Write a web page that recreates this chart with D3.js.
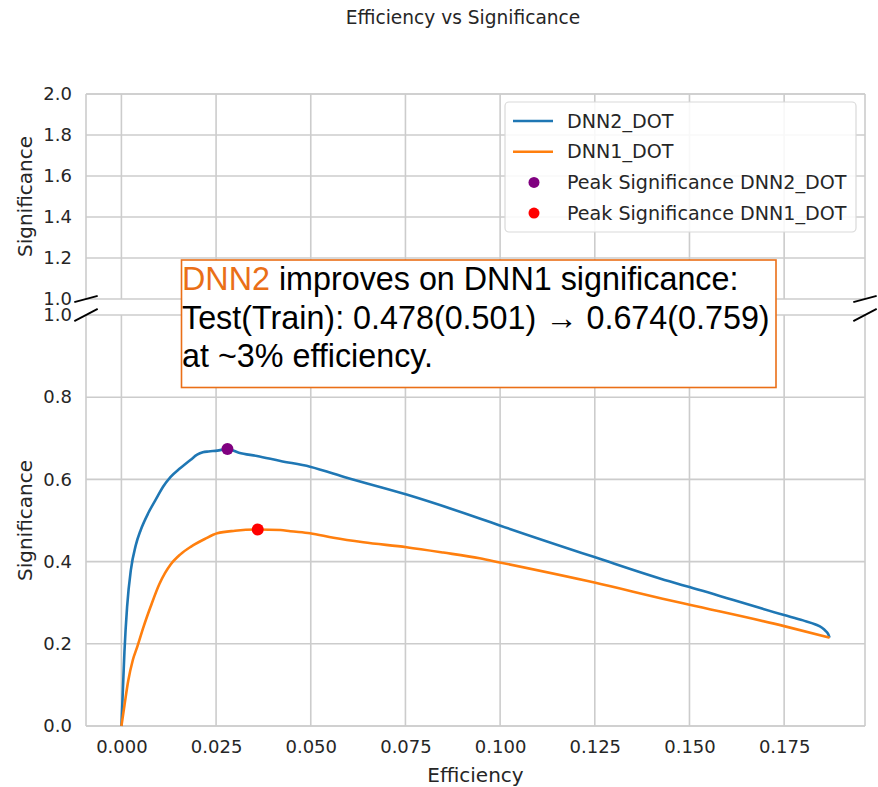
<!DOCTYPE html>
<html>
<head>
<meta charset="utf-8">
<script src="https://cdn.jsdelivr.net/npm/d3@7"></script>
<style>
  html, body { margin: 0; padding: 0; background: #fff; }
  svg { display: block; }
</style>
</head>
<body>
<svg id="chart" width="878" height="787"></svg>
<script>
// Efficiency / significance curves for the two networks
const dnn2Eff = [0, 0.0004, 0.0008, 0.0015, 0.0025, 0.0038, 0.0051, 0.0072, 0.0095, 0.011, 0.013, 0.0155, 0.0183, 0.0200, 0.0215, 0.023, 0.0253, 0.028, 0.031, 0.0358, 0.042, 0.0498, 0.0595, 0.0753, 0.0946, 0.0999, 0.1249, 0.1447, 0.150, 0.175, 0.180, 0.1833, 0.1850, 0.1860, 0.1866, 0.187];
const dnn2Sig = [0, 0.09, 0.18, 0.29, 0.38, 0.44, 0.477, 0.52, 0.558, 0.582, 0.606, 0.627, 0.648, 0.660, 0.666, 0.668, 0.670, 0.674, 0.665, 0.657, 0.645, 0.631, 0.604, 0.563, 0.505, 0.488, 0.411, 0.352, 0.338, 0.270, 0.257, 0.247, 0.239, 0.231, 0.224, 0.215];
const dnn1Eff = [0, 0.0008, 0.0018, 0.003, 0.0042, 0.0058, 0.0077, 0.010, 0.0115, 0.013, 0.0155, 0.0183, 0.022, 0.0253, 0.030, 0.036, 0.042, 0.0446, 0.0498, 0.056, 0.0639, 0.0753, 0.085, 0.0946, 0.0999, 0.1249, 0.1447, 0.150, 0.175, 0.187];
const dnn1Sig = [0, 0.05, 0.11, 0.16, 0.193, 0.24, 0.29, 0.345, 0.372, 0.393, 0.417, 0.436, 0.455, 0.469, 0.475, 0.478, 0.477, 0.474, 0.469, 0.458, 0.447, 0.435, 0.422, 0.408, 0.398, 0.349, 0.306, 0.295, 0.243, 0.215];

// Peak significance points
const peakLabels = ["Peak Significance DNN2_DOT", "Peak Significance DNN1_DOT"];
const peakEff = [0.028, 0.036];
const peakSig = [0.674, 0.478];

const seriesNames = ["DNN2_DOT", "DNN1_DOT"];
const xTicks = [0, 0.025, 0.05, 0.075, 0.1, 0.125, 0.15, 0.175];
const yTicksTop = [1.0, 1.2, 1.4, 1.6, 1.8, 2.0];
const yTicksBottom = [0.0, 0.2, 0.4, 0.6, 0.8, 1.0];

const colors = { DNN2_DOT: "#1f77b4", DNN1_DOT: "#ff7f0e" };
const peakColors = ["#800080", "#ff0000"];
const gridColor = "#cccccc";
const textColor = "#262626";
const font = "'DejaVu Sans', sans-serif";

const svg = d3.select("#chart");

// Layout of the broken axis: upper (1..2) and lower (0..1) panels
const left = 86, right = 865;
const top1 = 94, bottom1 = 299;
const top2 = 315, bottom2 = 726;

const xMax = d3.max([...dnn2Eff, ...dnn1Eff]);
const xMin = d3.min([...dnn2Eff, ...dnn1Eff]);
const pad = (xMax - xMin) * 0.05;
const x = d3.scaleLinear().domain([xMin - pad, xMax + pad]).range([left, right]);
const yTop = d3.scaleLinear().domain([1, 2]).range([bottom1, top1]);
const yBot = d3.scaleLinear().domain([0, 1]).range([bottom2, top2]);

function drawGrid(y, yTicks, yTopPx, yBotPx) {
  const g = svg.append("g");
  g.selectAll("line.v").data(xTicks).join("line")
    .attr("x1", d => x(d)).attr("x2", d => x(d))
    .attr("y1", yTopPx).attr("y2", yBotPx)
    .attr("stroke", gridColor).attr("stroke-width", 1.6);
  g.selectAll("line.h").data(yTicks).join("line")
    .attr("x1", left).attr("x2", right)
    .attr("y1", d => y(d)).attr("y2", d => y(d))
    .attr("stroke", gridColor).attr("stroke-width", 1.6);
  // left and right spines
  [left, right].forEach(px => {
    g.append("line").attr("x1", px).attr("x2", px)
      .attr("y1", yTopPx).attr("y2", yBotPx)
      .attr("stroke", gridColor).attr("stroke-width", 1.6);
  });
  // y axis labels
  const ax = d3.axisLeft(y).tickValues(yTicks).tickFormat(d3.format(".1f")).tickSize(0).tickPadding(14);
  const ag = svg.append("g").attr("transform", `translate(${left},0)`).call(ax);
  ag.select(".domain").remove();
  ag.selectAll("text").attr("font-family", font).attr("font-size", 18).attr("fill", textColor);
}

drawGrid(yTop, yTicksTop, top1, bottom1);
drawGrid(yBot, yTicksBottom, top2, bottom2);

// top spine of upper panel and bottom spine of lower panel
svg.append("line").attr("x1", left).attr("x2", right).attr("y1", top1).attr("y2", top1)
  .attr("stroke", gridColor).attr("stroke-width", 1.6);
svg.append("line").attr("x1", left).attr("x2", right).attr("y1", bottom2).attr("y2", bottom2)
  .attr("stroke", gridColor).attr("stroke-width", 1.6);

// x axis on the lower panel
const xAxis = d3.axisBottom(x).tickValues(xTicks).tickFormat(d3.format(".3f")).tickSize(0).tickPadding(14);
const xg = svg.append("g").attr("transform", `translate(0,${bottom2})`).call(xAxis);
xg.select(".domain").remove();
xg.selectAll("text").attr("font-family", font).attr("font-size", 18).attr("fill", textColor);

// Curves in the lower panel
svg.append("defs").append("clipPath").attr("id", "clipBot")
  .append("rect").attr("x", left).attr("y", top2).attr("width", right - left).attr("height", bottom2 - top2 + 4);

const line = d3.line().x(d => x(d[0])).y(d => yBot(d[1])).curve(d3.curveMonotoneX);
const curves = [
  { name: "DNN2_DOT", pts: d3.zip(dnn2Eff, dnn2Sig) },
  { name: "DNN1_DOT", pts: d3.zip(dnn1Eff, dnn1Sig) }
];
const cg = svg.append("g").attr("clip-path", "url(#clipBot)");
curves.forEach(c => {
  cg.append("path").datum(c.pts)
    .attr("d", line)
    .attr("fill", "none").attr("stroke", colors[c.name])
    .attr("stroke-width", 2.6).attr("stroke-linejoin", "round");
});
cg.selectAll("circle.peak").data(d3.range(peakEff.length)).join("circle")
  .attr("cx", i => x(peakEff[i])).attr("cy", i => yBot(peakSig[i]))
  .attr("r", 6).attr("fill", i => peakColors[i]);

// Break marks between the panels
const d = 0.015;
const w = right - left, h1 = bottom1 - top1, h2 = bottom2 - top2;
const marks = [
  [left - d * w, bottom1 + d * h1, left + d * w, bottom1 - d * h1],
  [right - d * w, bottom1 + d * h1, right + d * w, bottom1 - d * h1],
  [left - d * w, top2 + d * h2, left + d * w, top2 - d * h2],
  [right - d * w, top2 + d * h2, right + d * w, top2 - d * h2]
];
svg.selectAll("line.brk").data(marks).join("line")
  .attr("x1", m => m[0]).attr("y1", m => m[1]).attr("x2", m => m[2]).attr("y2", m => m[3])
  .attr("stroke", "#000").attr("stroke-width", 1.8);

// Legend in the upper panel
const lg = svg.append("g");
lg.append("rect").attr("x", 505).attr("y", 102).attr("width", 351).attr("height", 130)
  .attr("rx", 4).attr("fill", "#fff").attr("fill-opacity", 0.85)
  .attr("stroke", "#d9d9d9").attr("stroke-width", 1.2);
const legendItems = [
  { label: seriesNames[0], type: "line", color: colors[seriesNames[0]] },
  { label: seriesNames[1], type: "line", color: colors[seriesNames[1]] },
  { label: peakLabels[0], type: "dot", color: peakColors[0] },
  { label: peakLabels[1], type: "dot", color: peakColors[1] }
];
legendItems.forEach((it, i) => {
  const cy = 121 + i * 30.7;
  if (it.type === "line") {
    lg.append("line").attr("x1", 513).attr("x2", 553).attr("y1", cy).attr("y2", cy)
      .attr("stroke", it.color).attr("stroke-width", 2.6);
  } else {
    lg.append("circle").attr("cx", 534).attr("cy", cy).attr("r", 5.5).attr("fill", it.color);
  }
  lg.append("text").attr("x", 567).attr("y", cy).attr("dy", "0.35em")
    .attr("font-family", font).attr("font-size", 19.1).attr("fill", textColor).text(it.label);
});

// Titles
svg.append("text").attr("x", 463).attr("y", 17).attr("dy", "0.35em").attr("text-anchor", "middle")
  .attr("font-family", font).attr("font-size", 18.6).attr("fill", textColor).text("Efficiency vs Significance");
svg.append("text").attr("x", (left + right) / 2).attr("y", 775).attr("dy", "0.35em").attr("text-anchor", "middle")
  .attr("font-family", font).attr("font-size", 20).attr("fill", textColor).text("Efficiency");
[(top1 + bottom1) / 2, (top2 + bottom2) / 2].forEach(cy => {
  svg.append("text").attr("transform", `translate(25,${cy}) rotate(-90)`).attr("dy", "0.35em")
    .attr("text-anchor", "middle").attr("font-family", font).attr("font-size", 20)
    .attr("fill", textColor).text("Significance");
});

// Annotation box
const annColor = "#ea6f17";
const ann = svg.append("g");
ann.append("rect").attr("x", 181.5).attr("y", 260).attr("width", 594.5).attr("height", 127.5)
  .attr("fill", "#fff").attr("stroke", annColor).attr("stroke-width", 1.6);
const annFont = "'Liberation Sans', Arial, sans-serif";
const annSize = 32.3;
const t1 = ann.append("text").attr("x", 182).attr("y", 290).attr("font-family", annFont).attr("font-size", annSize).attr("fill", "#000");
t1.append("tspan").attr("fill", annColor).text("DNN2");
t1.append("tspan").text(" improves on DNN1 significance:");
ann.append("text").attr("x", 182).attr("y", 328.5).attr("font-family", annFont).attr("font-size", annSize).attr("fill", "#000")
  .text("Test(Train): 0.478(0.501) \u2192 0.674(0.759)");
ann.append("text").attr("x", 182).attr("y", 366.5).attr("font-family", annFont).attr("font-size", annSize).attr("fill", "#000")
  .text("at ~3% efficiency.");
</script>
</body>
</html>
